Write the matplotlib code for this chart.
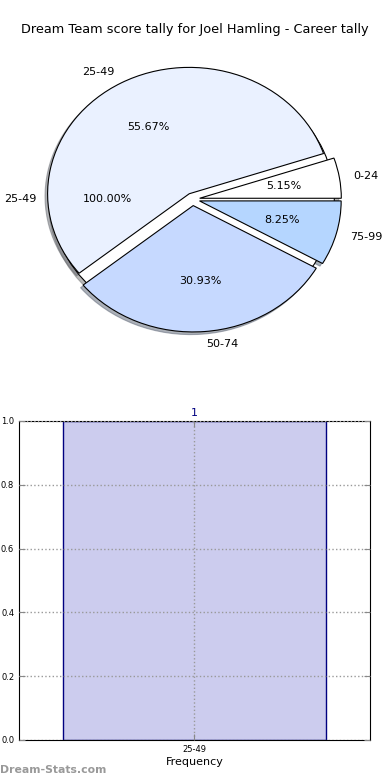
import matplotlib
matplotlib.use("Agg")
import matplotlib.pyplot as plt

# Data
title = "Dream Team score tally for Joel Hamling - Career tally"
career_labels = ["25-49"]
career_counts = [1]
bins = ["0-24", "25-49", "50-74", "75-99"]
bin_counts = [5, 54, 30, 8]
bar_labels = ["25-49"]
bar_values = [1]

pie_colors = ["#ffffff", "#eaf1ff", "#c6d9ff", "#b5d6ff"]
shadow_style = dict(ox=-0.013, oy=-0.015, shade=0.55)

fig = plt.figure(figsize=(3.9, 7.8), dpi=100)

# Pie panel
ax1 = fig.add_axes([0.04, 0.542, 0.908, 0.405])
ax1.pie(career_counts, labels=career_labels, colors=pie_colors[:1],
        autopct="%.2f%%", shadow=shadow_style, startangle=0,
        wedgeprops=dict(edgecolor="black", linewidth=0.8),
        textprops=dict(fontsize=8))
ax1.pie(bin_counts, labels=bins, colors=pie_colors,
        explode=[0.05] * len(bins), autopct="%.2f%%", shadow=shadow_style,
        startangle=0,
        wedgeprops=dict(edgecolor="black", linewidth=0.8),
        textprops=dict(fontsize=8))
ax1.set_aspect("auto")
ax1.set_xlim(-1.25, 1.25)
ax1.set_ylim(-1.25, 1.25)

fig.text(0.5, 1 - 30 / 780, title, ha="center", va="center", fontsize=9.3)

# Bar panel
ax2 = fig.add_axes([0.0487, 0.0513, 0.9, 0.409])
x = list(range(len(bar_labels)))
bars = ax2.bar(x, bar_values, width=0.75, color="#ccccee",
               edgecolor="navy", linewidth=1)
for b, v in zip(bars, bar_values):
    ax2.text(b.get_x() + b.get_width() / 2, v + 0.01, str(v),
             ha="center", va="bottom", color="navy", fontsize=8)
ax2.set_xlim(-0.5, len(bar_labels) - 0.5)
ax2.set_ylim(0, 1)
ax2.set_xticks(x)
ax2.set_xticklabels(bar_labels)
ax2.set_yticks([0.0, 0.2, 0.4, 0.6, 0.8, 1.0])
ax2.set_yticklabels(["0.0", "0.2", "0.4", "0.6", "0.8", "1.0"])
ax2.tick_params(direction="in", top=True, right=True, labelsize=6,
                length=4, color="#888888")
ax2.set_axisbelow(False)
ax2.grid(True, linestyle=":", color="#999999", linewidth=1)
ax2.set_xlabel("Frequency", fontsize=8, labelpad=2)

fig.text(0.0, 1 - 770 / 780, "Dream-Stats.com", ha="left", va="center",
         fontsize=7.8, fontweight="bold", color="#999999")

fig.savefig("out.png", dpi=100)
